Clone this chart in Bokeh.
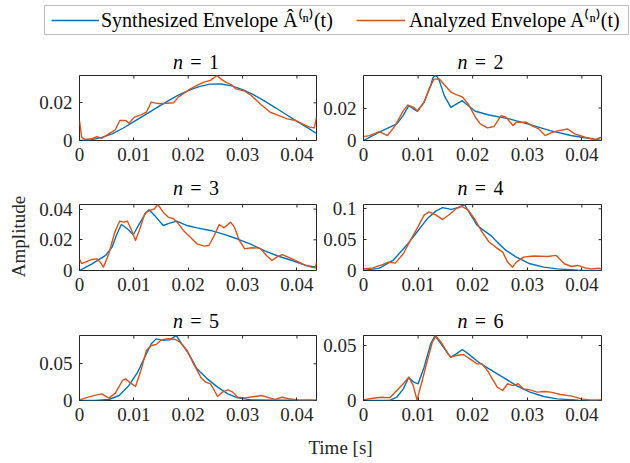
import math
from bokeh.plotting import figure
from bokeh.models import Range1d, FixedTicker, NumeralTickFormatter, Label, Legend, LegendItem, BoxAnnotation
from bokeh.layouts import column, row
from bokeh.embed import file_html
from bokeh.resources import INLINE

FONT = "Liberation Serif"
BLUE = "#0072BD"
ORANGE = "#D95319"
AX = "#262626"

T_END = 0.0436
X_TICKS = [0, 0.01, 0.02, 0.03, 0.04]
Y_TICKS = {1: [0, 0.02], 2: [0, 0.02], 3: [0, 0.02, 0.04],
           4: [0, 0.05, 0.1], 5: [0, 0.05], 6: [0, 0.05]}
TITLES = ["1", "2", "3", "4", "5", "6"]
LEG_SYN = "Synthesized Envelope \u00c2\u207d\u207f\u207e(t)"
LEG_ANA = "Analyzed Envelope A\u207d\u207f\u207e(t)"
X_LABEL = "Time [s]"
Y_LABEL = "Amplitude"

# n = 1
T1S = [0, 0.002, 0.004, 0.006, 0.008, 0.010, 0.012, 0.014, 0.016, 0.018, 0.020, 0.022,
       0.024, 0.026, 0.028, 0.030, 0.032, 0.034, 0.036, 0.038, 0.040, 0.042, 0.0436]
A1S = [0, 0.0003, 0.0015, 0.0035, 0.0065, 0.0100, 0.0135, 0.0170, 0.0205, 0.0238, 0.0265, 0.0286,
       0.0299, 0.0300, 0.0290, 0.0270, 0.0243, 0.0210, 0.0175, 0.0138, 0.0102, 0.0067, 0.0037]
T1A = [0, 0.0004, 0.001, 0.0022, 0.0032, 0.0041, 0.0054, 0.0066, 0.0074, 0.0085, 0.0091, 0.0101,
       0.0113, 0.0123, 0.0132, 0.0138, 0.0148, 0.016, 0.0173, 0.0182, 0.0191, 0.0204, 0.0216,
       0.0229, 0.0241, 0.0253, 0.026, 0.0269, 0.0279, 0.0288, 0.0304, 0.0316, 0.0332, 0.0351,
       0.0366, 0.0382, 0.0398, 0.041, 0.0423, 0.0432, 0.0436]
A1A = [0.0106, 0.0018, 0.0005, 0.0009, 0.002, 0.0012, 0.0035, 0.0057, 0.0106, 0.0106, 0.0092, 0.0124,
       0.0136, 0.015, 0.0204, 0.020, 0.0195, 0.0198, 0.020, 0.023, 0.0248, 0.0274, 0.0292,
       0.031, 0.0319, 0.0345, 0.0327, 0.031, 0.0297, 0.0274, 0.0262, 0.0239, 0.0195, 0.015,
       0.0133, 0.0115, 0.0106, 0.0088, 0.0071, 0.0067, 0.0124]

# n = 2
T2S = [0, 0.0029, 0.0061, 0.0072, 0.0083, 0.0098, 0.0111, 0.0123, 0.0127, 0.0131, 0.0135, 0.0139,
       0.0148, 0.016, 0.017, 0.0181, 0.0192, 0.0205, 0.023, 0.0267, 0.0305, 0.0342, 0.038,
       0.0418, 0.0436]
A2S = [0, 0.0051, 0.0102, 0.015, 0.0214, 0.018, 0.0235, 0.0337, 0.0385, 0.0400, 0.0392, 0.0367,
       0.0276, 0.0204, 0.0224, 0.0245, 0.0214, 0.018, 0.0157, 0.0133, 0.0098, 0.0061, 0.0031,
       0.001, 0]
T2A = [0, 0.0011, 0.0029, 0.0044, 0.0058, 0.0073, 0.0081, 0.0092, 0.0099, 0.0111, 0.012, 0.0129,
       0.0139, 0.0148, 0.0161, 0.017, 0.0181, 0.0192, 0.0205, 0.0214, 0.0227, 0.0239, 0.0252,
       0.0261, 0.0274, 0.028, 0.029, 0.0299, 0.0308, 0.0321, 0.0333, 0.0346, 0.0358, 0.0374,
       0.0387, 0.0406, 0.0425, 0.0436]
A2A = [0.0024, 0.003, 0.0055, 0.003, 0.0092, 0.0184, 0.0218, 0.0204, 0.018, 0.0235, 0.0316, 0.0378,
       0.0378, 0.0343, 0.0296, 0.0282, 0.0269, 0.0224, 0.0143, 0.0102, 0.0078, 0.0086, 0.0153,
       0.0143, 0.0092, 0.0112, 0.0112, 0.0112, 0.0092, 0.0071, 0.003, 0.0051, 0.0061, 0.0071,
       0.0041, 0.002, 0.0006, 0.002]

# n = 3
T3S = [0, 0.0023, 0.0048, 0.006, 0.0069, 0.0077, 0.0088, 0.0099, 0.011, 0.0123, 0.0128, 0.0138,
       0.0154, 0.0166, 0.0179, 0.0198, 0.0216, 0.0241, 0.0266, 0.0291, 0.0316, 0.0341, 0.0366,
       0.0391, 0.0416, 0.0436]
A3S = [0, 0.0043, 0.0098, 0.0152, 0.0239, 0.030, 0.0272, 0.0233, 0.0304, 0.038, 0.0396, 0.0359,
       0.0293, 0.0309, 0.0322, 0.0293, 0.0278, 0.0261, 0.0235, 0.0205, 0.017, 0.0128, 0.0093,
       0.0065, 0.0033, 0.0022]
T3A = [0, 0.0004, 0.0023, 0.0032, 0.0038, 0.0044, 0.0054, 0.0065, 0.0074, 0.0082, 0.0088, 0.0096,
       0.0103, 0.011, 0.012, 0.0129, 0.0138, 0.0144, 0.0154, 0.0163, 0.0173, 0.0182, 0.0191,
       0.0204, 0.0216, 0.0229, 0.0238, 0.0248, 0.0257, 0.0266, 0.0278, 0.0285, 0.0294, 0.0304,
       0.0316, 0.0332, 0.0344, 0.0354, 0.0363, 0.0373, 0.0391, 0.041, 0.0426, 0.0434, 0.0436]
A3A = [0.0072, 0.0045, 0.0072, 0.0076, 0.0054, 0.0022, 0.0109, 0.025, 0.0322, 0.0315, 0.0322, 0.0261,
       0.0196, 0.0261, 0.037, 0.0391, 0.0402, 0.043, 0.038, 0.0348, 0.0337, 0.0304, 0.0261,
       0.0217, 0.0174, 0.0159, 0.0163, 0.0228, 0.030, 0.0278, 0.0315, 0.0283, 0.0196, 0.0141,
       0.0148, 0.0146, 0.0098, 0.0065, 0.0087, 0.0104, 0.0076, 0.0043, 0.0022, 0.0017, 0.0055]

# n = 4
T4S = [0, 0.0029, 0.0054, 0.0079, 0.0098, 0.0117, 0.0133, 0.0145, 0.0161, 0.0173, 0.0185, 0.0195,
       0.0208, 0.022, 0.0233, 0.0245, 0.0261, 0.028, 0.0305, 0.033, 0.0355, 0.0393, 0.0436]
A4S = [0, 0.0038, 0.0163, 0.0408, 0.0625, 0.0842, 0.0967, 0.102, 0.099, 0.102, 0.107, 0.092,
       0.0734, 0.065, 0.057, 0.046, 0.0326, 0.0217, 0.0109, 0.0054, 0.0027, 0.0005, 0]
T4A = [0, 0.0017, 0.0036, 0.0045, 0.0058, 0.0073, 0.0086, 0.0098, 0.0111, 0.012, 0.0133, 0.0145,
       0.0158, 0.017, 0.018, 0.0192, 0.0205, 0.0217, 0.023, 0.0242, 0.0255, 0.0264, 0.0273,
       0.028, 0.0293, 0.0312, 0.0337, 0.0353, 0.0368, 0.0381, 0.0393, 0.0406, 0.0418, 0.0431, 0.0436]
A4A = [0.0027, 0.0043, 0.0098, 0.0136, 0.012, 0.0272, 0.049, 0.068, 0.0897, 0.0951, 0.0897, 0.0826,
       0.0913, 0.1005, 0.104, 0.0978, 0.0815, 0.0625, 0.0462, 0.038, 0.0299, 0.0136, 0.0054,
       0.0136, 0.0217, 0.0234, 0.0228, 0.0245, 0.0109, 0.0065, 0.0082, 0.0043, 0.0027, 0.0038, 0.0027]

# n = 5
T5S = [0, 0.0029, 0.0054, 0.0073, 0.0091, 0.0107, 0.012, 0.0132, 0.0141, 0.0154, 0.0166, 0.0178,
       0.0188, 0.0201, 0.0216, 0.0235, 0.0254, 0.0273, 0.0291, 0.0316, 0.0436]
A5S = [0, 0, 0.0014, 0.0068, 0.0205, 0.0386, 0.059, 0.0773, 0.084, 0.082, 0.0827, 0.0886,
       0.0773, 0.0636, 0.0432, 0.0295, 0.0182, 0.0091, 0.0036, 0.0009, 0]
T5A = [0, 0.0016, 0.0032, 0.0041, 0.0054, 0.0066, 0.0079, 0.0085, 0.0094, 0.0103, 0.0113, 0.0123,
       0.0132, 0.0141, 0.0151, 0.0163, 0.0176, 0.0185, 0.0198, 0.021, 0.0223, 0.0232, 0.0241,
       0.0248, 0.0254, 0.0263, 0.0273, 0.0282, 0.0291, 0.0304, 0.0323, 0.0335, 0.0351, 0.036,
       0.0373, 0.0385, 0.0404, 0.0423, 0.0436]
A5A = [0.0009, 0.0045, 0.0077, 0.0091, 0.0032, 0.01, 0.0273, 0.0295, 0.0236, 0.0191, 0.0409, 0.0682,
       0.075, 0.0764, 0.0827, 0.0841, 0.0832, 0.0795, 0.0682, 0.05, 0.0318, 0.025, 0.0227,
       0.0136, 0.0055, 0.0114, 0.0145, 0.0114, 0.0045, 0.0036, 0.0055, 0.0068, 0.0032, 0.0014,
       0.0045, 0.0023, 0.0005, 0.0009, 0.0005]

# n = 6
T6S = [0, 0.0048, 0.0061, 0.0073, 0.0083, 0.0092, 0.01, 0.0111, 0.0123, 0.0131, 0.0142, 0.0155,
       0.016, 0.017, 0.0181, 0.0192, 0.0211, 0.023, 0.0255, 0.028, 0.0305, 0.033, 0.0355, 0.0393, 0.0436]
A6S = [0, 0, 0.003, 0.0106, 0.0212, 0.0167, 0.0152, 0.0303, 0.0515, 0.0591, 0.0515, 0.0424,
       0.0394, 0.0424, 0.0464, 0.0424, 0.0348, 0.0288, 0.0212, 0.0136, 0.0076, 0.0036, 0.0015, 0.0003, 0]
T6A = [0, 0.0017, 0.0033, 0.0048, 0.0061, 0.0073, 0.0083, 0.0091, 0.0098, 0.0106, 0.0117, 0.0126,
       0.0133, 0.0142, 0.0155, 0.016, 0.017, 0.0183, 0.0195, 0.0208, 0.0217, 0.0227, 0.0236,
       0.0245, 0.0255, 0.0264, 0.0274, 0.0283, 0.0293, 0.0305, 0.0318, 0.033, 0.0343, 0.0361,
       0.038, 0.0399, 0.0418, 0.0436]
A6A = [0.0006, 0.0021, 0.003, 0.0024, 0.0091, 0.0152, 0.0212, 0.0136, 0.0006, 0.0152, 0.0364, 0.053,
       0.0585, 0.053, 0.0424, 0.0394, 0.0409, 0.0418, 0.0379, 0.0333, 0.0333, 0.0273, 0.0197,
       0.0121, 0.0091, 0.0152, 0.0136, 0.0152, 0.0106, 0.0097, 0.0076, 0.0082, 0.0076, 0.0055,
       0.0042, 0.0015, 0.0003, 0.0006]

SERIES = {1: (T1S, A1S, T1A, A1A), 2: (T2S, A2S, T2A, A2A), 3: (T3S, A3S, T3A, A3A),
          4: (T4S, A4S, T4A, A4A), 5: (T5S, A5S, T5A, A5A), 6: (T6S, A6S, T6A, A6A)}

TICK_FS = "19px"
TITLE_FS = "20px"
LINE_W = 1.4
TICK_LEN = 3
H = 463
AMP_W = 30                      # strip holding the vertical "Amplitude" label
W = 630 - AMP_W                 # width of the main column
LEFT_W, LEFT_BL, LEFT_BR = 290, 49, 4
RIGHT_W, RIGHT_BL, RIGHT_BR = 310, 43, 29


def style_axis(ax):
    ax.major_tick_in = TICK_LEN
    ax.major_tick_out = 0
    ax.minor_tick_line_color = None
    ax.axis_line_color = None
    ax.major_tick_line_color = AX
    ax.major_label_text_font = FONT
    ax.major_label_text_font_size = TICK_FS
    ax.major_label_text_color = AX
    ax.major_label_standoff = 7


def strip(width, height, xr=(0, 1), yr=(0, 1)):
    s = figure(width=width, height=height, x_range=Range1d(*xr), y_range=Range1d(*yr),
               output_backend="svg", toolbar_location=None, x_axis_type=None, y_axis_type=None,
               min_border_left=0, min_border_right=0, min_border_top=0, min_border_bottom=0)
    s.outline_line_color = None
    s.grid.visible = False
    return s


def make_panel(n, is_left, b_top, f_h, b_bot):
    ts, a_s, ta, aa = SERIES[n]
    width, bl, br = (LEFT_W, LEFT_BL, LEFT_BR) if is_left else (RIGHT_W, RIGHT_BL, RIGHT_BR)
    fw = width - bl - br
    ymax = max(max(a_s), max(aa))
    p = figure(width=width, height=b_top + f_h + b_bot,
               x_range=Range1d(0, T_END), y_range=Range1d(0, ymax),
               output_backend="svg", toolbar_location=None,
               min_border_left=bl, min_border_right=br,
               min_border_top=b_top, min_border_bottom=b_bot)
    p.line(ts, a_s, color=BLUE, line_width=LINE_W, line_join="round")
    p.line(ta, aa, color=ORANGE, line_width=LINE_W, line_join="round")
    p.grid.visible = False
    p.outline_line_color = AX
    p.outline_line_width = 1
    p.background_fill_color = "white"
    p.border_fill_color = "white"

    p.xaxis.ticker = FixedTicker(ticks=X_TICKS)
    p.yaxis.ticker = FixedTicker(ticks=Y_TICKS[n])
    p.xaxis.formatter = NumeralTickFormatter(format="0.[00]")
    p.yaxis.formatter = NumeralTickFormatter(format="0.[00]")
    style_axis(p.xaxis[0])
    style_axis(p.yaxis[0])

    # mirrored inward ticks on the top and right edges of the box
    dy = TICK_LEN / f_h * ymax
    dx = TICK_LEN / fw * T_END
    p.segment(x0=X_TICKS, y0=[ymax] * len(X_TICKS), x1=X_TICKS, y1=[ymax - dy] * len(X_TICKS),
              line_color=AX, line_width=1)
    yt = Y_TICKS[n]
    p.segment(x0=[T_END] * len(yt), y0=yt, x1=[T_END - dx] * len(yt), y1=yt,
              line_color=AX, line_width=1)
    return p


def title_strip(height, n_left, n_right, mid):
    s = strip(W, height)
    centers = [LEFT_BL + (LEFT_W - LEFT_BL - LEFT_BR) / 2,
               LEFT_W + RIGHT_BL + (RIGHT_W - RIGHT_BL - RIGHT_BR) / 2]
    for cx, n in zip(centers, (n_left, n_right)):
        common = dict(x_units="screen", y_units="screen", y=mid, text_font=FONT,
                      text_font_size=TITLE_FS, text_color="black", text_baseline="middle")
        s.add_layout(Label(x=cx - 15, text="n", text_font_style="italic", text_align="right", **common))
        s.add_layout(Label(x=cx - 2, text="=", text_align="center", **common))
        s.add_layout(Label(x=cx + 16, text=TITLES[n - 1], text_align="center", **common))
    return s


# legend strip (coordinates of this strip are pixels)
lg = strip(W, 45, (0, W), (0, 45))
r1 = lg.line([-10, -9], [-10, -9], color=BLUE, line_width=LINE_W)
r2 = lg.line([-10, -9], [-10, -9], color=ORANGE, line_width=LINE_W)
leg_common = dict(orientation="horizontal", label_text_font=FONT, label_text_font_size="20px",
                  label_text_color="black", glyph_height=20, padding=0, margin=0,
                  border_line_color=None, background_fill_alpha=0)
lg.add_layout(BoxAnnotation(left=44 - AMP_W, right=628 - AMP_W, bottom=11, top=40, fill_alpha=0,
                            line_color=AX, line_width=1))
lg.add_layout(Legend(items=[LegendItem(label=LEG_SYN, renderers=[r1])], location=(51 - AMP_W, 12),
                     glyph_width=48, label_standoff=2, **leg_common), "center")
lg.add_layout(Legend(items=[LegendItem(label=LEG_ANA, renderers=[r2])], location=(356 - AMP_W, 12),
                     glyph_width=49, label_standoff=4, **leg_common), "center")

# (left n, right n, title strip height, title centre from strip bottom, panel top border, frame height)
rows_spec = [(1, 2, 28, 12, 2, 65), (3, 4, 28, 10.5, 6, 66), (5, 6, 33, 13, 2, 65)]
parts = [lg]
for nl, nr, sh, mid, bt, fh in rows_spec:
    parts.append(title_strip(sh, nl, nr, mid))
    parts.append(row(make_panel(nl, True, bt, fh, 30), make_panel(nr, False, bt, fh, 30), spacing=0))

xs = strip(W, 33)
xs.add_layout(Label(x=340 - AMP_W, y=16, x_units="screen", y_units="screen", text=X_LABEL,
                    text_font=FONT, text_font_size=TICK_FS, text_color=AX,
                    text_align="center", text_baseline="middle"))
parts.append(xs)

amp = strip(AMP_W, H)
amp.add_layout(Label(x=18, y=H - 236, x_units="screen", y_units="screen", text=Y_LABEL,
                     angle=math.pi / 2, text_font=FONT, text_font_size=TICK_FS, text_color=AX,
                     text_align="center", text_baseline="middle"))

layout = row(amp, column(*parts, spacing=0), spacing=0)
open("out.html", "w").write(file_html(layout, INLINE))
